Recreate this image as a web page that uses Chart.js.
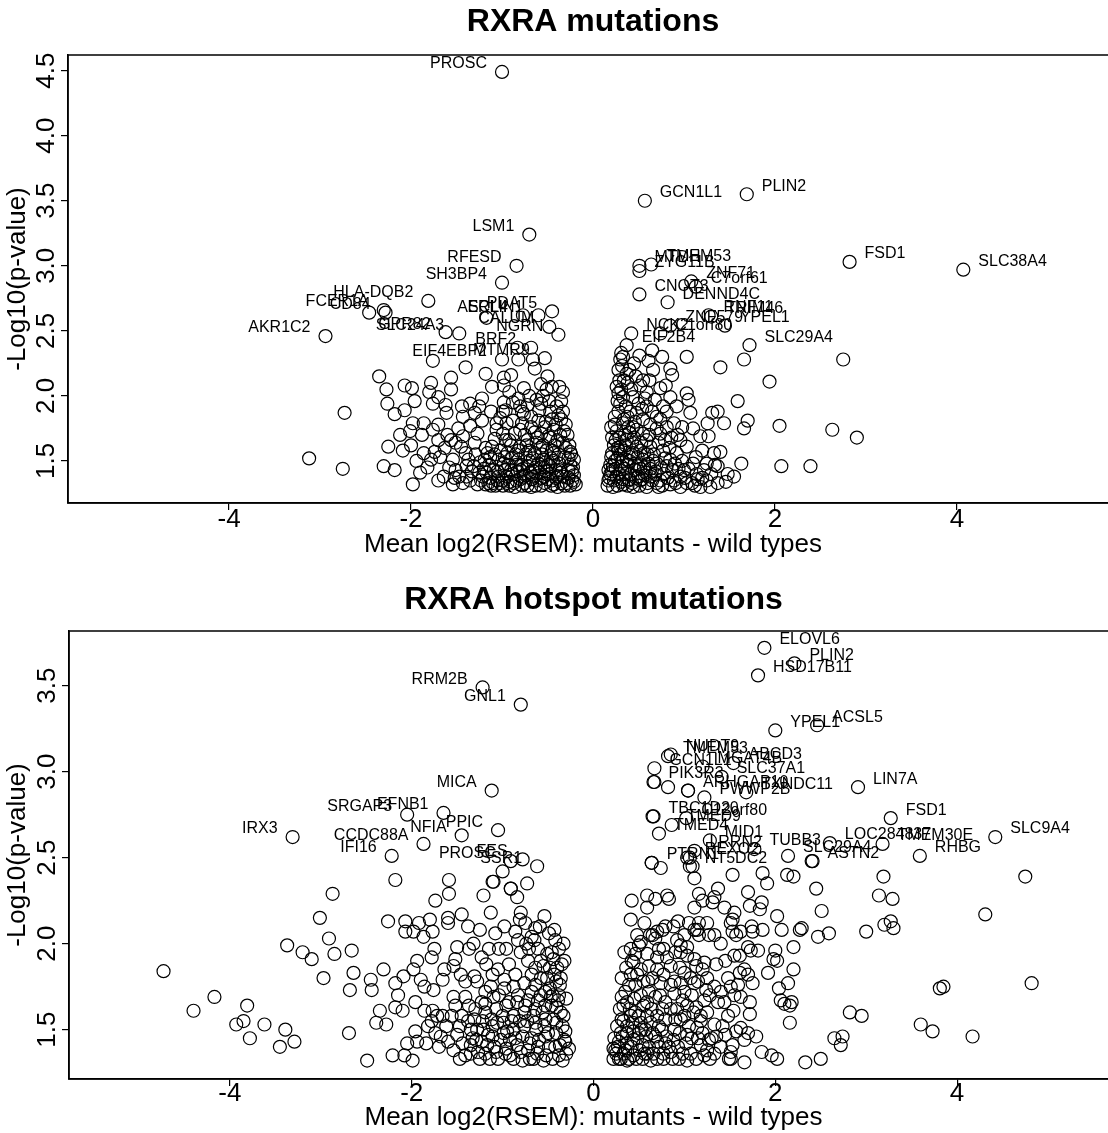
<!DOCTYPE html>
<html>
<head>
<meta charset="utf-8">
<title>RXRA volcano plots</title>
<script src="https://cdn.jsdelivr.net/npm/chart.js@4.4.1/dist/chart.umd.min.js"></script>
<style>
  html, body { margin: 0; padding: 0; background: #fff; overflow: hidden; }
  .panel { position: absolute; left: 0; }
</style>
</head>
<body>
<canvas id="mutChart" class="panel" width="1130" height="565" style="top:0"></canvas>
<canvas id="hotChart" class="panel" width="1130" height="568" style="top:565px"></canvas>
<script>
// axis ticks
const xTicks = [-4, -2, 0, 2, 4];
const mutYTicks = [1.5, 2.0, 2.5, 3.0, 3.5, 4.0, 4.5];
const hotYTicks = [1.5, 2.0, 2.5, 3.0, 3.5];

// --- all RXRA mutations: labelled genes ---
const mutGenes = ['PROSC', 'LSM1', 'RFESD', 'SH3BP4', 'HLA-DQB2', 'FCER1A', 'CD84', 'GPR82', 'SLC24A3', 'AKR1C2',
  'ERLIN1', 'PDAT5', 'ASCL4', 'CALUM', 'NGRN', 'BRF2', 'MTMR9', 'EIF4EBP2',
  'GCN1L1', 'PLIN2', 'FSD1', 'SLC38A4', 'MTDH', 'TMEM53', 'ZYG11B', 'CNOT3', 'ZNF71', 'C7orf61', 'DENND4C',
  'RNF11', 'TRIM46', 'ZNF579', 'YPEL1', 'NCK2', 'C1orf80', 'EIF2B4', 'SLC29A4'];
const mutGeneX = [-1.00, -0.70, -0.84, -1.00, -1.81, -2.30, -2.28, -1.62, -1.47, -2.94,
  -0.60, -0.45, -0.77, -0.48, -0.38, -0.68, -0.53, -1.00,
  0.57, 1.69, 2.82, 4.07, 0.51, 0.64, 0.51, 0.51, 1.08, 1.13, 0.82,
  1.27, 1.30, 0.85, 1.45, 0.42, 0.74, 0.37, 1.72];
const mutGeneY = [4.49, 3.24, 3.00, 2.87, 2.73, 2.66, 2.64, 2.49, 2.48, 2.46,
  2.62, 2.65, 2.62, 2.53, 2.47, 2.37, 2.29, 2.28,
  3.50, 3.55, 3.03, 2.97, 3.00, 3.01, 2.96, 2.78, 2.88, 2.84, 2.72,
  2.62, 2.61, 2.54, 2.54, 2.48, 2.48, 2.39, 2.39];

// --- all RXRA mutations: remaining genes [mean diff, -log10 p] ---
const mutPoints = [
  [-2.46,2.64],[-1.17,2.60],[-1.76,2.27],[-0.83,2.37],[-0.82,2.28],[-0.66,2.28],[-0.64,2.21],[-0.50,2.15],[-0.37,2.07],[-0.33,2.03],
  [-1.40,2.22],[-1.18,2.17],[-0.98,2.14],[-0.90,2.16],[-2.35,2.15],[-2.27,2.05],[-2.07,2.08],[-1.99,2.06],[-1.78,2.10],[-1.56,2.14],
  [-1.56,2.05],[-1.80,2.03],[-1.70,1.99],[-1.11,2.07],[-0.98,2.08],[-0.92,2.03],[-0.76,2.06],[-0.57,2.09],[-0.51,2.05],[-0.45,2.07],
  [-2.26,1.94],[-2.18,1.86],[-2.07,1.89],[-1.96,1.96],[-1.76,1.94],[-1.62,1.93],[-1.61,1.87],[-1.44,1.92],[-1.43,1.84],[-1.35,1.94],
  [-1.22,1.98],[-0.98,1.95],[-0.99,1.88],[-0.80,1.92],[-0.72,1.93],[-0.59,1.89],[-0.47,1.88],[-0.76,1.86],[-2.73,1.87],[-1.98,1.79],
  [-2.01,1.73],[-1.86,1.79],[-1.70,1.78],[-1.76,1.74],[-1.22,1.81],[-1.06,1.79],[-0.95,1.79],[-0.78,1.79],[-0.68,1.76],[-0.45,1.82],
  [-0.35,1.82],[-0.99,1.71],[-1.27,1.71],[-1.56,1.66],[-1.51,1.64],[-1.43,1.69],[-0.53,1.76],[-3.12,1.52],[-2.75,1.44],[-2.25,1.61],
  [-2.09,1.58],[-2.30,1.46],[-2.18,1.43],[-1.98,1.32],[-1.90,1.41],[-1.94,1.50],[-1.86,1.56],[-1.74,1.57],[-1.68,1.53],[-1.64,1.38],
  [-1.54,1.51],[-1.52,1.37],[-1.51,1.43],[-1.45,1.61],[-1.39,1.46],[-1.35,1.35],[-1.29,1.55],[-1.25,1.41],[-1.19,1.51],[-1.15,1.33],
  [-1.11,1.61],[-1.09,1.43],[-1.04,1.51],[-0.99,1.35],[-0.96,1.66],[-0.94,1.56],[-0.90,1.43],[-0.86,1.30],[-0.82,1.51],[-0.80,1.61],
  [-0.76,1.38],[-0.72,1.46],[-0.68,1.30],[-0.64,1.56],[-0.62,1.64],[-0.59,1.41],[-0.55,1.51],[-0.53,1.33],[-0.49,1.69],[-0.47,1.46],
  [-0.43,1.56],[-0.39,1.38],[-0.37,1.48],[-0.33,1.64],[-0.29,1.33],[-0.27,1.43],[-0.23,1.35],[-0.21,1.51],[-0.31,1.31],[-0.57,1.31],
  [-0.72,1.31],[-0.92,1.31],[-1.07,1.31],[-1.27,1.32],[-1.43,1.33],[-1.54,1.32],[-1.70,1.35],[-1.78,1.51],[-1.31,1.46],[-1.17,1.41],
  [-0.98,1.48],[-0.80,1.43],[-0.66,1.38],[-0.45,1.35],[-0.35,1.41],[-0.25,1.57],[-0.57,1.71],[-0.72,1.66],[-0.86,1.71],[-0.60,1.48],
  [-0.51,1.58],[-0.84,1.35],[-1.04,1.38],[-1.23,1.35],[-1.39,1.38],[-0.94,1.33],[-0.39,1.30],[-0.21,1.39],[-0.19,1.32],[-0.96,1.89],
  [-0.78,1.88],[-0.68,1.84],[-0.57,1.94],[-0.60,1.81],[-0.88,1.81],[-1.06,1.74],[-0.80,1.74],[-0.43,1.74],[-0.92,1.66],[-0.39,1.66],
  [-0.25,1.47],[-0.31,1.53],[-0.41,1.43],[-0.48,1.40],[-0.53,1.45],[-0.62,1.35],[-0.66,1.52],[-0.70,1.58],[-0.75,1.33],[-0.79,1.47],
  [-0.85,1.55],[-0.88,1.40],[-0.97,1.43],[-1.01,1.58],[-1.13,1.37],[-1.13,1.53],[-1.20,1.44],[-1.33,1.42],[-1.37,1.51],[-1.47,1.38],
  [-0.23,1.42],[-0.27,1.37],[-0.35,1.33],[-0.43,1.32],[-0.50,1.36],[-0.58,1.45],[-0.44,1.50],[-0.30,1.60],[-0.38,1.55],[-0.55,1.62],
  [-0.47,1.68],[-0.36,1.70],[-0.41,1.78],[-0.52,1.80],[-0.64,1.72],[-0.74,1.55],[-0.90,1.62],[-1.08,1.67],[-1.18,1.60],[-1.30,1.64],
  [-1.40,1.56],[-1.58,1.45],[-1.63,1.60],[-1.82,1.45],[-2.00,1.62],
  [-0.22,1.45],[-0.24,1.55],[-0.26,1.62],[-0.28,1.70],[-0.30,1.78],[-0.33,1.88],[-0.35,1.96],[-0.38,1.85],[-0.40,1.92],[-0.42,1.62],
  [-0.45,1.58],[-0.46,1.52],[-0.49,1.47],[-0.51,1.42],[-0.54,1.38],[-0.56,1.55],[-0.58,1.60],[-0.61,1.68],[-0.63,1.45],[-0.65,1.42],
  [-0.67,1.36],[-0.70,1.50],[-0.73,1.62],[-0.75,1.70],[-0.77,1.44],[-0.80,1.36],[-0.82,1.58],[-0.84,1.47],[-0.87,1.33],[-0.89,1.52],
  [-0.93,1.47],[-0.95,1.38],[-0.97,1.53],[-1.00,1.45],[-1.02,1.33],[-1.05,1.42],[-1.08,1.55],[-1.10,1.33],[-1.14,1.47],[-1.16,1.56],
  [-1.21,1.38],[-1.24,1.49],[-0.21,1.34],[-0.25,1.31],[-0.33,1.38],[-0.37,1.43],[-0.41,1.37],[-0.46,1.31],[-0.52,1.49],[-0.57,1.37],
  [-0.63,1.31],[-0.69,1.41],[-0.74,1.39],[-0.78,1.31],[-0.83,1.42],[-0.91,1.34],[-0.99,1.31],[-1.05,1.35],[-1.12,1.31],[-1.18,1.32],
  [-0.48,1.96],[-0.55,2.00],[-0.62,1.97],[-0.70,2.00],[-0.82,1.98],[-0.88,1.95],[-1.02,1.83],[-1.12,1.88],[-1.30,1.87],[-1.48,1.75],
  [-1.35,1.77],[-1.60,1.70],[-1.70,1.66],[-1.88,1.70],[-2.12,1.70],[-1.25,1.92],[-0.32,1.73],[-0.27,1.52],
  [0.31,2.33],[0.30,2.28],[0.32,2.23],[0.37,2.17],[0.29,2.12],[0.26,2.07],[0.51,2.31],[0.65,2.35],[0.76,2.30],[0.61,2.27],
  [1.03,2.30],[0.85,2.21],[0.87,2.16],[1.40,2.22],[1.66,2.28],[2.75,2.28],[1.94,2.11],[1.59,1.96],[1.03,2.02],[1.05,1.97],
  [1.07,1.87],[1.31,1.87],[1.37,1.88],[1.44,1.79],[1.70,1.81],[1.66,1.75],[2.05,1.77],[2.63,1.74],[2.90,1.68],[2.07,1.46],
  [2.39,1.46],[1.63,1.48],[1.26,1.79],[1.18,1.69],[1.27,1.69],[1.40,1.57],[1.37,1.46],[1.48,1.40],[1.55,1.38],[1.37,1.33],
  [1.25,1.35],[1.14,1.40],[1.09,1.33],[0.96,1.30],[0.89,1.35],[1.00,1.43],[0.92,1.56],[0.96,1.66],[1.03,1.61],[0.81,1.76],
  [0.74,1.71],[0.70,1.84],[0.77,1.92],[0.68,1.97],[0.59,2.03],[0.52,2.08],[0.74,2.06],[0.85,1.99],[0.92,1.92],[0.89,1.79],
  [0.65,1.88],[0.50,1.94],[0.41,1.88],[0.30,1.94],[0.24,1.84],[0.33,1.79],[0.26,1.73],[0.44,1.76],[0.55,1.71],[0.37,1.66],
  [0.20,1.53],[0.30,1.61],[0.48,1.61],[0.63,1.61],[0.77,1.58],[0.22,1.46],[0.37,1.51],[0.55,1.51],[0.70,1.48],[0.81,1.46],
  [0.17,1.35],[0.26,1.38],[0.41,1.40],[0.52,1.35],[0.63,1.38],[0.74,1.35],[0.22,1.30],[0.33,1.32],[0.44,1.30],[0.59,1.30],
  [0.72,1.30],[0.85,1.32],[1.18,1.30],[1.29,1.30],[1.46,1.34],[1.25,1.48],[1.33,1.56],[1.13,1.53],[0.31,1.46],[0.50,1.46],
  [0.63,1.44],[0.44,1.56],[0.59,1.66],[0.79,1.66],[0.28,2.02],[0.33,1.99],[0.44,1.99],[0.59,1.92],[0.39,1.76],[0.20,1.76],
  [0.30,1.55],[0.55,1.82],[0.81,1.88],[0.74,1.82],[0.98,1.76],[1.20,1.58],[0.85,1.51],[0.17,1.43],[0.39,1.35],[0.57,1.39],
  [0.68,1.40],[0.96,1.38],[1.03,1.33],
  [0.19,1.40],[0.24,1.50],[0.28,1.58],[0.35,1.44],[0.40,1.50],[0.46,1.43],[0.50,1.38],[0.56,1.45],[0.60,1.55],[0.66,1.50],
  [0.70,1.33],[0.35,1.70],[0.45,1.68],[0.52,1.58],[0.28,1.88],[0.36,1.92],[0.42,2.05],[0.55,2.12],[0.25,1.66],[0.33,1.36],
  [0.78,1.40],[0.90,1.48],[1.10,1.48],[1.15,1.36],[0.93,1.70],[1.10,1.75],[0.48,1.87],[0.38,2.10],[0.66,2.20],[0.45,2.25],
  [0.16,1.31],[0.18,1.37],[0.19,1.47],[0.21,1.42],[0.21,1.56],[0.23,1.35],[0.23,1.62],[0.25,1.44],[0.27,1.31],[0.27,1.52],
  [0.29,1.68],[0.29,1.40],[0.31,1.34],[0.32,1.50],[0.34,1.58],[0.34,1.82],[0.36,1.40],[0.36,1.62],[0.38,1.31],[0.38,1.47],
  [0.40,1.72],[0.40,1.36],[0.42,1.55],[0.43,1.64],[0.43,1.33],[0.46,1.48],[0.47,1.37],[0.48,1.74],[0.49,1.53],[0.51,1.31],
  [0.52,1.44],[0.53,1.64],[0.54,1.36],[0.56,1.56],[0.58,1.41],[0.60,1.33],[0.61,1.48],[0.62,1.70],[0.65,1.35],[0.67,1.55],
  [0.69,1.42],[0.72,1.64],[0.75,1.45],[0.76,1.31],[0.79,1.52],[0.82,1.37],[0.84,1.60],[0.87,1.43],[0.91,1.33],[0.94,1.44],
  [0.98,1.50],[1.01,1.37],[1.05,1.44],[1.12,1.31],[1.20,1.37],[1.22,1.43],[1.30,1.40],[1.34,1.47],[0.27,1.96],[0.31,2.05],
  [0.34,2.12],[0.28,2.20],[0.33,2.30],[0.40,2.20],[0.47,2.15],[0.57,1.98],[0.62,2.12],[0.80,2.08],[0.70,1.75],[0.86,1.68],
  [0.63,1.78],[0.46,1.80],[0.54,1.90],[0.24,1.78],[0.21,1.68],[0.27,1.60],[0.38,1.84]
];

// --- RXRA hotspot mutations: labelled genes ---
const hotGenes = ['RRM2B', 'GNL1', 'MICA', 'SRGAP3', 'EFNB1', 'IRX3', 'CCDC88A', 'NFIA', 'PPIC', 'IFI16', 'PROSC', 'FES', 'SSR1',
  'ELOVL6', 'PLIN2', 'HSD17B11', 'YPEL1', 'ACSL5', 'NUDT9', 'TMEM53', 'GCN1L1', 'MGAT4B', 'ABCD3', 'PIK3R3', 'SLC37A1',
  'ARHGAP10', 'PWWP2B', 'TXNDC11', 'LIN7A', 'TBC1D20', 'C12orf80', 'TMED9', 'TMED4', 'MID1', 'FSD1', 'SLC9A4',
  'LOC284837', 'TMEM30E', 'RHBG', 'TUBB3', 'SLC29A4', 'ASTN2', 'LRRN2', 'REXO2', 'PTRN1', 'NT5DC2'];
const hotGeneX = [-1.22, -0.80, -1.12, -2.05, -1.65, -3.31, -1.87, -1.45, -1.05, -2.22, -0.91, -0.78, -0.62,
  1.88, 2.21, 1.81, 2.00, 2.46, 0.85, 0.82, 0.67, 1.20, 1.54, 0.66, 1.41,
  1.04, 1.22, 1.68, 2.91, 0.66, 1.02, 0.86, 0.72, 1.28, 3.27, 4.42,
  2.60, 3.18, 3.59, 1.77, 2.14, 2.41, 1.11, 1.06, 0.64, 1.06];
const hotGeneY = [3.49, 3.39, 2.89, 2.75, 2.76, 2.62, 2.58, 2.63, 2.66, 2.51, 2.48, 2.49, 2.45,
  3.72, 3.63, 3.56, 3.24, 3.27, 3.10, 3.09, 3.02, 3.03, 3.05, 2.94, 2.97,
  2.89, 2.85, 2.88, 2.91, 2.74, 2.73, 2.69, 2.64, 2.60, 2.73, 2.62,
  2.585, 2.58, 2.51, 2.55, 2.51, 2.48, 2.54, 2.50, 2.47, 2.45];

// --- RXRA hotspot mutations: remaining genes ---
const hotPoints = [
  [-4.73,1.84],[-4.17,1.69],[-4.40,1.61],[-3.81,1.64],[-3.85,1.55],[-3.93,1.53],[-3.78,1.45],[-3.62,1.53],[-3.39,1.50],[-3.45,1.40],
  [-3.29,1.43],[-3.37,1.99],[-3.20,1.95],[-3.10,1.91],[-3.01,2.15],[-2.91,2.03],[-2.87,2.29],[-2.85,1.94],[-2.97,1.80],[-2.66,1.96],
  [-2.64,1.83],[-2.68,1.73],[-2.69,1.48],[-2.45,1.79],[-2.44,1.73],[-2.49,1.32],[-2.31,1.85],[-2.35,1.61],[-2.39,1.54],[-2.28,1.53],
  [-2.21,1.35],[-2.26,2.13],[-2.18,2.37],[-2.07,2.13],[-2.07,2.07],[-1.98,2.07],[-1.92,2.12],[-1.80,2.14],[-1.87,2.04],[-1.77,2.07],
  [-1.74,2.25],[-1.75,1.97],[-1.78,1.92],[-1.94,1.90],[-1.98,1.85],[-2.09,1.81],[-2.18,1.77],[-2.15,1.70],[-2.18,1.63],[-2.10,1.61],
  [-1.96,1.66],[-1.86,1.61],[-1.77,1.61],[-1.78,1.55],[-1.66,1.58],[-1.90,1.79],[-1.86,1.75],[-1.76,1.73],[-1.66,1.79],[-1.64,1.85],
  [-1.54,1.87],[-1.52,1.91],[-1.59,2.29],[-1.59,2.37],[-1.60,2.15],[-1.60,2.12],[-1.45,2.17],[-1.37,1.97],[-1.32,2.00],[-1.31,1.81],
  [-1.41,1.78],[-1.54,1.69],[-1.52,1.64],[-1.41,1.69],[-1.37,1.64],[-1.45,1.58],[-1.47,1.52],[-1.21,2.28],[-1.10,2.36],[-1.13,2.18],
  [-1.08,2.06],[-1.23,1.92],[-1.15,1.97],[-1.04,1.97],[-0.96,1.97],[-0.91,2.32],[-0.84,2.27],[-0.80,2.18],[-0.81,2.14],[-0.86,2.07],
  [-0.83,2.02],[-0.74,2.00],[-0.71,1.97],[-0.68,2.04],[-0.64,2.09],[-0.59,2.10],[-0.54,2.16],[-0.43,2.08],[-0.42,2.02],[-0.46,1.95],
  [-0.44,1.91],[-0.32,1.90],[-0.55,1.87],[-0.64,1.86],[-0.68,1.82],[-0.86,1.82],[-0.98,1.79],[-1.11,1.82],[-1.13,1.75],[-1.19,1.72],
  [-1.23,1.66],[-1.10,1.69],[-0.98,1.74],[-0.88,1.75],[-0.76,1.77],[-0.64,1.76],[-0.51,1.80],[-0.41,1.78],[-0.37,1.76],[-0.43,1.82],
  [-0.53,1.72],[-0.61,1.67],[-0.72,1.67],[-0.84,1.66],[-0.96,1.64],[-1.07,1.62],[-1.19,1.60],[-1.31,1.56],[-1.35,1.50],[-1.29,1.44],
  [-1.21,1.50],[-1.11,1.52],[-0.99,1.54],[-0.88,1.58],[-0.76,1.60],[-0.64,1.62],[-0.53,1.64],[-0.41,1.63],[-0.33,1.58],[-0.41,1.54],
  [-0.53,1.56],[-0.64,1.54],[-0.76,1.52],[-0.88,1.50],[-0.99,1.48],[-1.11,1.46],[-1.23,1.43],[-1.35,1.36],[-1.47,1.33],[-1.54,1.38],
  [-1.60,1.43],[-1.68,1.46],[-1.74,1.48],[-1.84,1.42],[-1.94,1.43],[-1.96,1.49],[-2.05,1.42],[-2.08,1.35],[-1.99,1.32],[-1.19,1.36],
  [-1.05,1.33],[-0.92,1.35],[-0.78,1.32],[-0.66,1.33],[-0.55,1.32],[-0.45,1.33],[-0.34,1.32],[-0.27,1.39],[-0.37,1.41],[-0.49,1.40],
  [-0.61,1.40],[-0.72,1.38],[-0.84,1.41],[-0.96,1.39],[-1.07,1.37],[-1.27,1.37],[-1.41,1.35],[-1.35,1.41],[-1.17,1.41],[-0.92,1.44],
  [-0.68,1.45],[-0.53,1.46],[-0.41,1.48],[-0.31,1.49],[-0.47,1.69],[-0.39,1.67],[-0.51,1.94],[-0.61,1.97],[-0.33,2.00],
  [-1.11,2.36],[-0.91,2.32],[-0.73,2.35],[-1.00,2.42],
  [-0.30,1.36],[-0.32,1.44],[-0.34,1.52],[-0.36,1.60],[-0.38,1.70],[-0.40,1.86],[-0.42,1.40],[-0.44,1.56],[-0.46,1.64],[-0.48,1.74],
  [-0.50,1.48],[-0.52,1.35],[-0.54,1.52],[-0.56,1.60],[-0.58,1.70],[-0.60,1.44],[-0.62,1.36],[-0.63,1.50],[-0.66,1.58],[-0.68,1.72],
  [-0.70,1.42],[-0.70,1.33],[-0.73,1.55],[-0.75,1.64],[-0.78,1.46],[-0.80,1.37],[-0.81,1.55],[-0.83,1.70],[-0.86,1.45],[-0.88,1.33],
  [-0.90,1.55],[-0.93,1.66],[-0.95,1.49],[-0.97,1.36],[-1.00,1.58],[-1.02,1.44],[-1.04,1.70],[-1.06,1.54],[-1.09,1.40],[-1.12,1.56],
  [-1.14,1.33],[-1.16,1.47],[-1.19,1.65],[-1.22,1.55],[-1.25,1.33],[-1.28,1.50],[-1.30,1.62],[-1.33,1.45],[-1.38,1.55],[-1.44,1.42],
  [-1.50,1.47],[-1.56,1.58],[-1.62,1.52],[-1.70,1.40],[-1.72,1.58],[-1.82,1.52],[-0.35,1.88],[-0.38,1.97],[-0.48,1.86],[-0.58,1.90],
  [-0.72,1.90],[-0.80,1.95],[-0.93,1.88],[-1.05,1.85],[-1.18,1.88],[-1.28,1.78],[-1.46,1.82],[-1.50,1.98],[-0.65,2.02],[-0.49,2.06],
  [-0.75,2.12],[-0.98,2.10],[-1.25,2.08],[-1.38,2.10],[-0.58,1.80],[-0.45,1.70],[-0.36,1.80],[-0.30,1.68],[-0.31,1.43],[-0.38,1.35],
  [4.75,2.39],[4.31,2.17],[4.82,1.77],[3.85,1.75],[3.81,1.74],[3.60,1.53],[3.73,1.49],[4.17,1.46],[3.19,2.39],[3.14,2.28],
  [3.29,2.26],[3.27,2.13],[3.20,2.11],[3.30,2.09],[3.00,2.07],[2.82,1.60],[2.95,1.58],[2.65,1.45],[2.74,1.46],[2.72,1.41],
  [2.33,1.31],[2.50,1.33],[2.45,2.32],[2.51,2.19],[2.47,2.04],[2.59,2.06],[2.27,2.08],[2.29,2.09],[2.20,1.98],[2.20,1.85],
  [2.14,1.77],[2.07,2.08],[2.02,2.16],[2.13,2.40],[2.20,2.39],[2.40,2.48],[1.86,2.41],[1.91,2.35],[1.86,2.08],[2.00,1.96],
  [1.98,1.91],[2.02,1.90],[1.92,1.83],[2.04,1.74],[2.06,1.67],[2.10,1.65],[2.16,1.64],[2.18,1.66],[2.16,1.54],[1.85,1.37],
  [1.96,1.35],[2.02,1.33],[1.66,1.31],[1.51,1.33],[1.79,1.46],[1.66,1.44],[1.70,1.48],[1.53,2.40],[1.70,2.30],[1.85,2.24],
  [1.83,2.20],[1.72,2.22],[1.55,2.18],[1.53,2.14],[1.51,2.12],[1.74,2.10],[1.75,2.07],[1.53,2.07],[1.57,2.05],[1.62,2.07],
  [1.70,1.98],[1.73,1.96],[1.81,1.96],[1.61,1.93],[1.55,1.93],[1.66,1.85],[1.61,1.83],[1.70,1.82],[1.75,1.77],[1.51,1.75],
  [1.59,1.76],[1.55,1.70],[1.62,1.69],[1.72,1.66],[1.54,1.61],[1.72,1.59],[1.57,1.49],[1.62,1.51],[1.53,1.41],[1.51,1.37],
  [1.49,1.33],[1.37,2.32],[1.33,2.27],[1.31,2.24],[1.16,2.29],[1.20,2.25],[1.11,2.21],[1.44,2.21],[1.16,2.12],[1.14,2.08],
  [1.11,2.08],[1.16,2.05],[1.27,2.05],[1.33,2.05],[0.93,2.13],[0.79,2.10],[0.70,2.07],[0.76,2.08],[0.65,2.05],[0.68,2.03],
  [0.52,2.01],[0.50,1.99],[0.41,1.97],[0.42,2.25],[0.41,2.14],[0.59,2.28],[0.59,2.21],[0.68,2.26],[0.81,2.28],[0.83,2.26],
  [0.92,2.02],[0.96,1.99],[1.03,1.98],[0.96,1.95],[1.03,1.93],[0.77,1.97],[0.81,1.92],[0.46,1.94],[0.44,1.89],[0.59,1.94],
  [0.70,1.92],[1.11,1.91],[1.13,1.87],[1.20,1.85],[1.22,1.89],[1.00,1.83],[1.07,1.80],[1.11,1.77],[0.96,1.77],[0.89,1.78],
  [0.85,1.76],[0.77,1.82],[0.70,1.85],[0.61,1.87],[0.74,1.77],[0.52,1.85],[0.41,1.82],[0.39,1.76],[0.46,1.76],[0.31,1.69],
  [0.37,1.66],[0.33,1.64],[0.52,1.70],[0.61,1.72],[0.68,1.69],[0.59,1.66],[0.79,1.66],[0.76,1.62],[0.89,1.71],[0.98,1.67],
  [1.03,1.64],[1.13,1.63],[1.18,1.58],[1.33,1.75],[1.24,1.73],[1.22,1.67],[1.37,1.66],[1.25,1.60],[1.33,1.53],[1.44,1.66],
  [1.48,1.58],[1.42,1.52],[1.35,1.46],[1.14,1.51],[1.20,1.48],[1.27,1.44],[1.18,1.41],[1.25,1.38],[1.33,1.36],[1.03,1.47],
  [1.07,1.36],[1.13,1.33],[1.03,1.32],[0.94,1.33],[0.85,1.37],[0.79,1.42],[0.89,1.50],[0.96,1.56],[0.92,1.62],[0.72,1.52],
  [0.65,1.48],[0.70,1.43],[0.77,1.36],[0.70,1.33],[0.63,1.32],[0.59,1.58],[0.52,1.54],[0.46,1.60],[0.41,1.58],[0.37,1.52],
  [0.31,1.56],[0.30,1.48],[0.28,1.43],[0.24,1.38],[0.22,1.39],[0.28,1.33],[0.37,1.32],[0.44,1.35],[0.54,1.33],[0.37,1.42],
  [0.44,1.44],[0.54,1.41],[0.59,1.36],[0.50,1.48],[0.57,1.50],[0.44,1.49],[0.33,1.36],[1.11,2.38],[0.64,2.47],[0.74,2.44],
  [1.09,2.45],[0.65,2.74],[0.82,2.91],[1.04,2.89],[1.03,2.50],[0.67,2.94],
  [0.22,1.33],[0.23,1.45],[0.25,1.36],[0.26,1.52],[0.27,1.40],[0.29,1.62],[0.30,1.33],[0.32,1.46],[0.33,1.55],[0.35,1.38],
  [0.35,1.72],[0.37,1.48],[0.39,1.33],[0.40,1.62],[0.42,1.40],[0.43,1.54],[0.45,1.68],[0.47,1.33],[0.48,1.45],[0.50,1.58],
  [0.51,1.38],[0.53,1.50],[0.55,1.64],[0.56,1.36],[0.58,1.46],[0.60,1.78],[0.61,1.40],[0.63,1.54],[0.64,1.62],[0.66,1.36],
  [0.68,1.46],[0.70,1.58],[0.72,1.40],[0.73,1.70],[0.75,1.50],[0.77,1.33],[0.79,1.56],[0.80,1.46],[0.83,1.40],[0.85,1.62],
  [0.87,1.33],[0.88,1.44],[0.90,1.56],[0.93,1.40],[0.95,1.48],[0.98,1.36],[1.00,1.58],[1.02,1.42],[1.05,1.52],[1.08,1.45],
  [1.10,1.60],[1.15,1.45],[1.18,1.55],[1.22,1.35],[1.28,1.33],[1.30,1.45],[1.40,1.40],[1.45,1.47],[0.31,1.80],[0.36,1.86],
  [0.42,1.90],[0.48,1.82],[0.55,1.78],[0.65,1.80],[0.72,1.97],[0.85,1.87],[0.90,1.95],[0.95,1.86],[1.00,1.72],[1.08,1.70],
  [1.15,1.78],[1.25,1.80],[1.28,1.70],[1.40,1.72],[0.34,1.95],[0.48,2.05],[0.56,2.12],[0.62,2.05],[0.88,2.10],[1.00,2.05],
  [1.05,2.12],[1.25,2.12],[1.40,2.00],[1.45,1.90],[1.48,1.80],[1.35,1.88]
];

const circleStyle = {
  pointStyle: 'circle',
  pointRadius: 6.5,
  pointHoverRadius: 6.5,
  pointBorderWidth: 1.2,
  pointBorderColor: '#000',
  pointBackgroundColor: 'rgba(0,0,0,0)',
  showLine: false
};

// gene names sit just above each circle, to the left for down-regulated genes
const geneLabels = {
  id: 'geneLabels',
  afterDatasetsDraw(chart, args, opts) {
    const ctx = chart.ctx;
    const xs = chart.scales.x, ys = chart.scales.y;
    ctx.save();
    ctx.fillStyle = '#000';
    ctx.font = '16px "Liberation Sans", Arial, sans-serif';
    ctx.textBaseline = 'middle';
    opts.genes.forEach((g, i) => {
      const px = xs.getPixelForValue(opts.gx[i]);
      const py = ys.getPixelForValue(opts.gy[i]);
      if (opts.gx[i] < 0) {
        ctx.textAlign = 'right';
        ctx.fillText(g, px - 15, py - 8);
      } else {
        ctx.textAlign = 'left';
        ctx.fillText(g, px + 15, py - 8);
      }
    });
    ctx.restore();
  }
};

// box round the plot region plus the panel heading
const frame = {
  id: 'frame',
  afterDraw(chart, args, opts) {
    const a = chart.chartArea;
    const ctx = chart.ctx;
    ctx.save();
    ctx.strokeStyle = '#000';
    ctx.lineWidth = 1.5;
    ctx.strokeRect(a.left, a.top, a.right - a.left, a.bottom - a.top);
    ctx.fillStyle = '#000';
    ctx.font = 'bold 32px "Liberation Sans", Arial, sans-serif';
    ctx.textAlign = 'center';
    ctx.textBaseline = 'middle';
    ctx.fillText(opts.text, (a.left + a.right) / 2, opts.y);
    ctx.restore();
  }
};

function volcano(id, p) {
  const points = p.points.map(d => ({ x: d[0], y: d[1] }));
  const labelled = p.gx.map((x, i) => ({ x: x, y: p.gy[i] }));
  return new Chart(document.getElementById(id), {
    type: 'scatter',
    data: {
      datasets: [
        Object.assign({ data: points }, circleStyle),
        Object.assign({ data: labelled }, circleStyle)
      ]
    },
    options: {
      responsive: false,
      animation: false,
      events: [],
      layout: { padding: { top: p.top, right: 12, left: 0, bottom: 0 } },
      plugins: {
        legend: { display: false },
        tooltip: { enabled: false },
        frame: { text: p.title, y: p.titleY },
        geneLabels: { genes: p.genes, gx: p.gx, gy: p.gy }
      },
      scales: {
        x: {
          type: 'linear',
          min: -5.77, max: 5.77,
          afterBuildTicks: axis => { axis.ticks = xTicks.map(v => ({ value: v })); },
          afterFit: axis => { axis.height = p.xAxisH; },
          grid: { drawOnChartArea: false, drawTicks: true, tickLength: 7, color: '#000', lineWidth: 1.2 },
          border: { display: true, color: '#000', width: 1.5 },
          ticks: {
            color: '#000', padding: p.xTickPad, autoSkip: false, maxRotation: 0,
            font: { family: '"Liberation Sans", Arial, sans-serif', size: 26 },
            callback: v => String(v)
          },
          title: {
            display: true, text: 'Mean log2(RSEM): mutants - wild types', color: '#000',
            font: { family: '"Liberation Sans", Arial, sans-serif', size: 26 },
            padding: { top: 0, bottom: p.xTitlePad }
          }
        },
        y: {
          type: 'linear',
          min: p.ymin, max: p.ymax,
          afterBuildTicks: axis => { axis.ticks = p.yTicks.map(v => ({ value: v })); },
          afterFit: axis => { axis.width = p.yAxisW; },
          grid: { drawOnChartArea: false, drawTicks: true, tickLength: 7, color: '#000', lineWidth: 1.2 },
          border: { display: true, color: '#000', width: 1.5 },
          ticks: {
            color: '#000', padding: -4, autoSkip: false, minRotation: 90, maxRotation: 90, crossAlign: 'center',
            font: { family: '"Liberation Sans", Arial, sans-serif', size: 26 },
            callback: v => v.toFixed(1)
          },
          title: {
            display: true, text: '-Log10(p-value)', color: '#000',
            font: { family: '"Liberation Sans", Arial, sans-serif', size: 26 },
            padding: { top: 2, bottom: 0 }
          }
        }
      }
    },
    plugins: [geneLabels, frame]
  });
}

volcano('mutChart', {
  title: 'RXRA mutations', titleY: 22, top: 55, xAxisH: 62, yAxisW: 68,
  xTickPad: -6, xTitlePad: 5,
  ymin: 1.177, ymax: 4.62, yTicks: mutYTicks,
  points: mutPoints, genes: mutGenes, gx: mutGeneX, gy: mutGeneY
});

volcano('hotChart', {
  title: 'RXRA hotspot mutations', titleY: 35, top: 66, xAxisH: 54, yAxisW: 69,
  xTickPad: -8, xTitlePad: 0,
  ymin: 1.213, ymax: 3.818, yTicks: hotYTicks,
  points: hotPoints, genes: hotGenes, gx: hotGeneX, gy: hotGeneY
});
</script>
</body>
</html>
